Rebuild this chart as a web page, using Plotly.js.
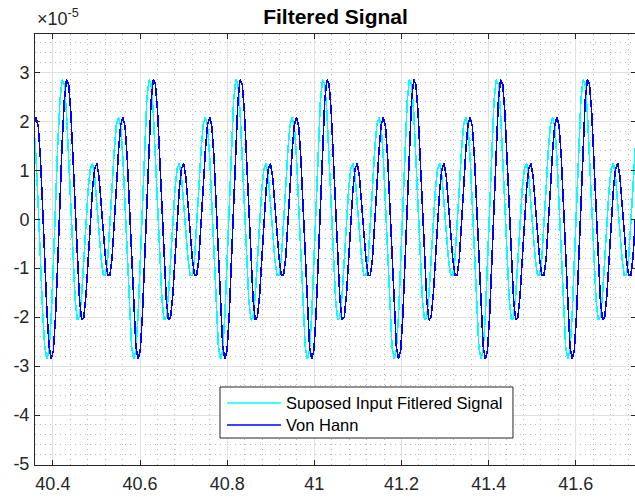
<!DOCTYPE html>
<html>
<head>
<meta charset="utf-8">
<script src="https://cdn.plot.ly/plotly-3.0.1.min.js"></script>
<style>
html,body{margin:0;padding:0;overflow:hidden;background:#fff;}
#chart{width:636px;height:497px;}
.scatterlayer path.js-line{shape-rendering:crispEdges;}
</style>
</head>
<body>
<div id="chart"></div>
<script>
// Sample timing (s)
var t0 = 40.35645;
var dt = 0.00498;

// Values in units of 1e-5
var inputFiltered = [
 1.90, 1.25, 0.27, -0.85, -1.88, -2.60, -2.86, -2.68, -1.96, -0.88, 0.37, 1.54, 2.42,
 2.85, 2.76, 2.19, 1.26, 0.17, -0.87, -1.64, -2.06, -2.00, -1.55, -0.85, -0.07, 0.61, 1.03, 1.14, 0.87, 0.36, -0.26, -0.81, -1.14, -1.15, -0.81, -0.17, 0.63, 1.40, 1.93, 2.08, 1.90, 1.25, 0.27, -0.85, -1.88, -2.60, -2.86, -2.68, -1.96, -0.88, 0.37, 1.54, 2.42,
 2.85, 2.76, 2.19, 1.26, 0.17, -0.87, -1.64, -2.06, -2.00, -1.55, -0.85, -0.07, 0.61, 1.03, 1.14, 0.87, 0.36, -0.26, -0.81, -1.14, -1.15, -0.81, -0.17, 0.63, 1.40, 1.93, 2.08, 1.90, 1.25, 0.27, -0.85, -1.88, -2.60, -2.86, -2.68, -1.96, -0.88, 0.37, 1.54, 2.42,
 2.85, 2.76, 2.19, 1.26, 0.17, -0.87, -1.64, -2.06, -2.00, -1.55, -0.85, -0.07, 0.61, 1.03, 1.14, 0.87, 0.36, -0.26, -0.81, -1.14, -1.15, -0.81, -0.17, 0.63, 1.40, 1.93, 2.08, 1.90, 1.25, 0.27, -0.85, -1.88, -2.60, -2.86, -2.68, -1.96, -0.88, 0.37, 1.54, 2.42,
 2.85, 2.76, 2.19, 1.26, 0.17, -0.87, -1.64, -2.06, -2.00, -1.55, -0.85, -0.07, 0.61, 1.03, 1.14, 0.87, 0.36, -0.26, -0.81, -1.14, -1.15, -0.81, -0.17, 0.63, 1.40, 1.93, 2.08, 1.90, 1.25, 0.27, -0.85, -1.88, -2.60, -2.86, -2.68, -1.96, -0.88, 0.37, 1.54, 2.42,
 2.85, 2.76, 2.19, 1.26, 0.17, -0.87, -1.64, -2.06, -2.00, -1.55, -0.85, -0.07, 0.61, 1.03, 1.14, 0.87, 0.36, -0.26, -0.81, -1.14, -1.15, -0.81, -0.17, 0.63, 1.40, 1.93, 2.08, 1.90, 1.25, 0.27, -0.85, -1.88, -2.60, -2.86, -2.68, -1.96, -0.88, 0.37, 1.54, 2.42,
 2.85, 2.76, 2.19, 1.26, 0.17, -0.87, -1.64, -2.06, -2.00, -1.55, -0.85, -0.07, 0.61, 1.03, 1.14, 0.87, 0.36, -0.26, -0.81, -1.14, -1.15, -0.81, -0.17, 0.63, 1.40, 1.93, 2.08, 1.90, 1.25, 0.27, -0.85, -1.88, -2.60, -2.86, -2.68, -1.96, -0.88, 0.37, 1.54, 2.42,
 2.85, 2.76, 2.19, 1.26, 0.17, -0.87, -1.64, -2.06, -2.00, -1.55, -0.85, -0.07, 0.61, 1.03, 1.14, 0.87, 0.36, -0.26, -0.81, -1.14, -1.15, -0.81, -0.17, 0.63, 1.40, 1.93
];

var vonHann = [
 1.93, 2.08, 1.90, 1.25, 0.27, -0.85, -1.88, -2.60, -2.86, -2.68, -1.96, -0.88, 0.37, 1.54, 2.42,
 2.85, 2.76, 2.19, 1.26, 0.17, -0.87, -1.64, -2.06, -2.00, -1.55, -0.85, -0.07, 0.61, 1.03, 1.14, 0.87, 0.36, -0.26, -0.81, -1.14, -1.15, -0.81, -0.17, 0.63, 1.40, 1.93, 2.08, 1.90, 1.25, 0.27, -0.85, -1.88, -2.60, -2.86, -2.68, -1.96, -0.88, 0.37, 1.54, 2.42,
 2.85, 2.76, 2.19, 1.26, 0.17, -0.87, -1.64, -2.06, -2.00, -1.55, -0.85, -0.07, 0.61, 1.03, 1.14, 0.87, 0.36, -0.26, -0.81, -1.14, -1.15, -0.81, -0.17, 0.63, 1.40, 1.93, 2.08, 1.90, 1.25, 0.27, -0.85, -1.88, -2.60, -2.86, -2.68, -1.96, -0.88, 0.37, 1.54, 2.42,
 2.85, 2.76, 2.19, 1.26, 0.17, -0.87, -1.64, -2.06, -2.00, -1.55, -0.85, -0.07, 0.61, 1.03, 1.14, 0.87, 0.36, -0.26, -0.81, -1.14, -1.15, -0.81, -0.17, 0.63, 1.40, 1.93, 2.08, 1.90, 1.25, 0.27, -0.85, -1.88, -2.60, -2.86, -2.68, -1.96, -0.88, 0.37, 1.54, 2.42,
 2.85, 2.76, 2.19, 1.26, 0.17, -0.87, -1.64, -2.06, -2.00, -1.55, -0.85, -0.07, 0.61, 1.03, 1.14, 0.87, 0.36, -0.26, -0.81, -1.14, -1.15, -0.81, -0.17, 0.63, 1.40, 1.93, 2.08, 1.90, 1.25, 0.27, -0.85, -1.88, -2.60, -2.86, -2.68, -1.96, -0.88, 0.37, 1.54, 2.42,
 2.85, 2.76, 2.19, 1.26, 0.17, -0.87, -1.64, -2.06, -2.00, -1.55, -0.85, -0.07, 0.61, 1.03, 1.14, 0.87, 0.36, -0.26, -0.81, -1.14, -1.15, -0.81, -0.17, 0.63, 1.40, 1.93, 2.08, 1.90, 1.25, 0.27, -0.85, -1.88, -2.60, -2.86, -2.68, -1.96, -0.88, 0.37, 1.54, 2.42,
 2.85, 2.76, 2.19, 1.26, 0.17, -0.87, -1.64, -2.06, -2.00, -1.55, -0.85, -0.07, 0.61, 1.03, 1.14, 0.87, 0.36, -0.26, -0.81, -1.14, -1.15, -0.81, -0.17, 0.63, 1.40, 1.93, 2.08, 1.90, 1.25, 0.27, -0.85, -1.88, -2.60, -2.86, -2.68, -1.96, -0.88, 0.37, 1.54, 2.42,
 2.85, 2.76, 2.19, 1.26, 0.17, -0.87, -1.64, -2.06, -2.00, -1.55, -0.85, -0.07, 0.61, 1.03, 1.14, 0.87, 0.36, -0.26, -0.81, -1.14, -1.15, -0.81, -0.17, 0.63
];

var seriesNames = ["Suposed Input Fitlered Signal", "Von Hann"];
var seriesColors = ["#00ffff", "#0000ff"];
var yTickVals = [-5, -4, -3, -2, -1, 0, 1, 2, 3];
var yTickText = ["-5", "-4", "-3", "-2", "-1", "0", "1", "2", "3"];
var xTickVals = [40.4, 40.6, 40.8, 41, 41.2, 41.4, 41.6];
var xTickText = ["40.4", "40.6", "40.8", "41", "41.2", "41.4", "41.6"];

function times(n){ var a=[]; for(var i=0;i<n;i++) a.push(t0 + i*dt); return a; }

var axisColor = "#262626";
var font = "Liberation Sans, Arial, Helvetica, sans-serif";

var traces = [
  {x: times(inputFiltered.length), y: inputFiltered, name: seriesNames[0], type: "scatter", mode: "lines",
   line: {color: seriesColors[0], width: 1.6, shape: "linear"}},
  {x: times(vonHann.length), y: vonHann, name: seriesNames[1], type: "scatter", mode: "lines",
   line: {color: seriesColors[1], width: 1.6, shape: "linear"}}
];

// Legend box drawn in paper coordinates (MATLAB-style compact legend)
var lg = {x0: 0.3078, x1: 0.7953, y0: 0.0626, y1: 0.1810, lx0: 0.3195, lx1: 0.4093, tx: 0.4143, rows: [0.1439, 0.0928]};
var shapes = [
  {type: "rect", xref: "paper", yref: "paper", x0: lg.x0, x1: lg.x1, y0: lg.y0, y1: lg.y1,
   fillcolor: "#ffffff", line: {color: axisColor, width: 1}, layer: "above"}
];
var annotations = [
  {xref: "paper", yref: "paper", x: 0, y: 1, xanchor: "left", yanchor: "bottom", yshift: 3, showarrow: false,
   text: "×10<sup>-5</sup>", font: {family: font, size: 18, color: axisColor}}
];
for (var i = 0; i < seriesNames.length; i++) {
  shapes.push({type: "line", xref: "paper", yref: "paper", x0: lg.lx0, x1: lg.lx1, y0: lg.rows[i], y1: lg.rows[i],
               line: {color: seriesColors[i], width: 1.3}, layer: "above"});
  annotations.push({xref: "paper", yref: "paper", x: lg.tx, y: lg.rows[i], xanchor: "left", yanchor: "middle",
                    showarrow: false, text: seriesNames[i], font: {family: font, size: 16.5, color: "#000"}});
}

var layout = {
  width: 636, height: 497,
  margin: {l: 35, r: 0, t: 34, b: 32, pad: 0},
  paper_bgcolor: "#ffffff", plot_bgcolor: "#ffffff",
  font: {family: font, color: axisColor, size: 18},
  title: {text: "<b>Filtered Signal</b>", font: {family: font, size: 21, color: "#000"}, x: 0.5, xanchor: "center", xref: "paper", y: 0.967, yanchor: "middle"},
  showlegend: false,
  xaxis: {range: [40.359, 41.738], tickmode: "array", tickvals: xTickVals, ticktext: xTickText,
          ticks: "inside", ticklen: 5, tickcolor: axisColor, tickwidth: 1, mirror: "ticks",
          showline: true, linecolor: axisColor, linewidth: 1, zeroline: false,
          showgrid: true, gridcolor: "#e1e1e1", gridwidth: 1,
          minor: {dtick: 0.04, tick0: 40.4, showgrid: true, gridcolor: "#bcbcbc", griddash: "1px,4px", gridwidth: 1, ticks: ""},
          ticklabelstandoff: 2, tickfont: {size: 18, color: axisColor}},
  yaxis: {range: [-5.02, 3.783], tickmode: "array", tickvals: yTickVals, ticktext: yTickText,
          ticks: "inside", ticklen: 5, tickcolor: axisColor, tickwidth: 1, mirror: "ticks",
          showline: true, linecolor: axisColor, linewidth: 1, zeroline: false,
          showgrid: true, gridcolor: "#e1e1e1", gridwidth: 1,
          minor: {dtick: 0.2, tick0: 0, showgrid: true, gridcolor: "#bcbcbc", griddash: "1px,4px", gridwidth: 1, ticks: ""},
          ticklabelstandoff: 1, tickfont: {size: 18, color: axisColor}},
  shapes: shapes,
  annotations: annotations
};

Plotly.newPlot("chart", traces, layout, {displayModeBar: false, staticPlot: true});
</script>
</body>
</html>
